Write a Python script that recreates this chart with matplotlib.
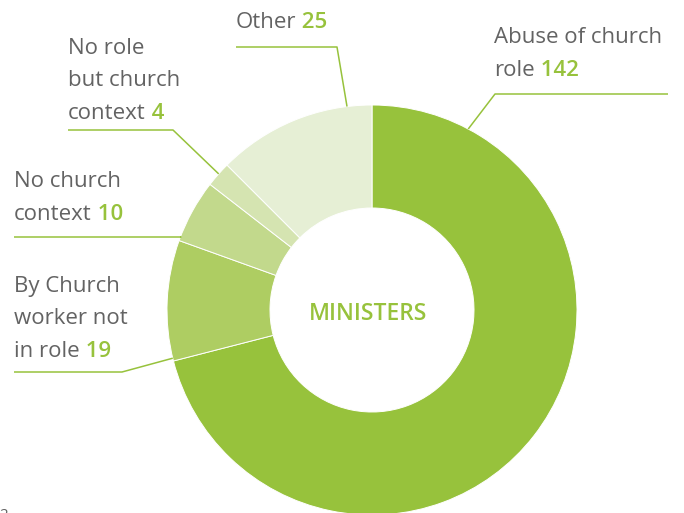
import numpy as np
import matplotlib
matplotlib.use("Agg")
import matplotlib.pyplot as plt

# data, clockwise from the top
labels = ["Abuse of church\nrole", "By Church\nworker not\nin role", "No church\ncontext",
          "No role\nbut church\ncontext", "Other"]
counts = [142, 19, 10, 4, 25]
colors = ["#97c23c", "#aecd62", "#c2d98c", "#d5e4b1", "#e6efd5"]

# layout (pixels, y downwards)
cx, cy = 372, 310
r_out, r_in = 205, 102
# text anchor (left, baseline of first line), leader line height and span, angle on ring
label_pos = [(494, 43), (14, 292), (14, 187), (68, 54), (236, 28)]
line_y = [94, 372, 237, 130, 47]
line_x = [(495, 668), (14, 122), (14, 181), (68, 173), (236, 337)]
ring_ang = [28, 256.4, 290.9, 311.6, 353]   # degrees clockwise from top

gray = "#636363"
green = "#97c23c"
font = "Open Sans"
fs = 16
lh = 32.5

fig = plt.figure(figsize=(6.84, 5.13), dpi=100)
ax = fig.add_axes([0, 0, 1, 1])

# y axis flipped, so startangle -90 is the top and counterclock runs clockwise on screen
ax.pie(counts, colors=colors, startangle=-90, counterclock=True, radius=r_out, center=(cx, cy),
       wedgeprops=dict(width=r_out - r_in, edgecolor="white", linewidth=0.7))
ax.set_xlim(0, 684)
ax.set_ylim(513, 0)
ax.set_aspect("equal")
ax.axis("off")

ax.text(cx - 4, cy + 4, "MINISTERS", color=green, fontsize=16.5, fontweight="semibold", family=font,
        ha="center", va="center")

for i in range(len(counts)):
    lines = labels[i].split("\n")
    x0, y0 = label_pos[i]
    for j, ln in enumerate(lines):
        t = ax.text(x0, y0 + j * lh, ln, color=gray, fontsize=fs, family=font, va="baseline")
    ax.annotate(" " + str(counts[i]), xy=(1, 0), xycoords=t, color=green, fontsize=fs,
                family=font, fontweight="semibold", va="bottom")

    # leader line: horizontal, then to the ring
    a = np.radians(ring_ang[i])
    px = cx + r_out * np.sin(a)
    py = cy - r_out * np.cos(a)
    xa, xb = line_x[i]
    if i == 0:
        xs = [xb, xa, px]
    else:
        xs = [xa, xb, px]
    ys = [line_y[i], line_y[i], py]
    ax.plot(xs, ys, color=green, lw=1.1, solid_capstyle="butt")

# page number cut off at the bottom edge, as in the source
ax.text(-1, 508, "2", color=gray, fontsize=11, family=font, va="top")

fig.savefig("out.png", dpi=100)
